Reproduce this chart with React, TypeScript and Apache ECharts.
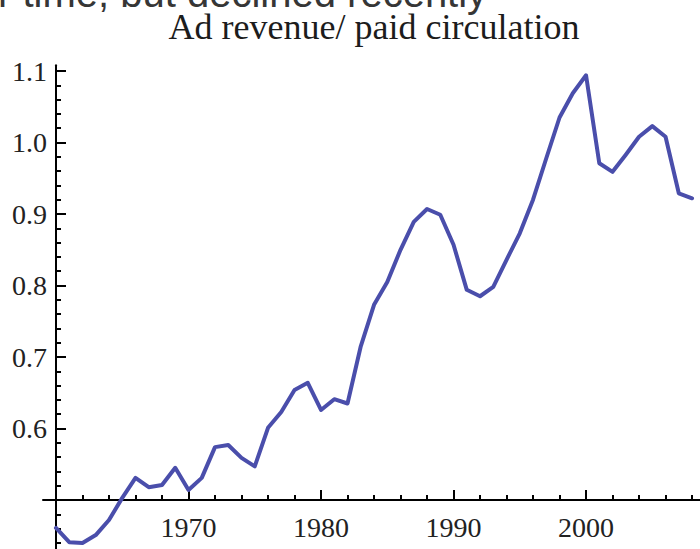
import React, { useEffect, useRef } from "react";
import * as echarts from "echarts";

const years = [
  1960, 1961, 1962, 1963, 1964, 1965, 1966, 1967, 1968, 1969,
  1970, 1971, 1972, 1973, 1974, 1975, 1976, 1977, 1978, 1979,
  1980, 1981, 1982, 1983, 1984, 1985, 1986, 1987, 1988, 1989,
  1990, 1991, 1992, 1993, 1994, 1995, 1996, 1997, 1998, 1999,
  2000, 2001, 2002, 2003, 2004, 2005, 2006, 2007, 2008,
];
const adRevenuePerCirculation = [
  0.461, 0.441, 0.44, 0.451, 0.472, 0.503, 0.531, 0.518, 0.521, 0.545,
  0.514, 0.531, 0.574, 0.577, 0.559, 0.547, 0.601, 0.623, 0.654, 0.664,
  0.626, 0.641, 0.635, 0.715, 0.773, 0.805, 0.85, 0.889, 0.907, 0.899,
  0.857, 0.794, 0.785, 0.798, 0.836, 0.873, 0.92, 0.978, 1.035, 1.069,
  1.094, 0.971, 0.959, 0.983, 1.008, 1.023, 1.008, 0.929, 0.922,
];
const xMajorTicks = [1970, 1980, 1990, 2000];
const xMinorTicks = [
  1962, 1964, 1966, 1968, 1972, 1974, 1976, 1978, 1982, 1984, 1986, 1988,
  1992, 1994, 1996, 1998, 2002, 2004, 2006, 2008,
];
const yMajorTicks = [0.6, 0.7, 0.8, 0.9, 1.0, 1.1];
const yMinorTicks = [
  0.44, 0.46, 0.48, 0.52, 0.54, 0.56, 0.58, 0.62, 0.64, 0.66, 0.68, 0.72,
  0.74, 0.76, 0.78, 0.82, 0.84, 0.86, 0.88, 0.92, 0.94, 0.96, 0.98, 1.02,
  1.04, 1.06, 1.08,
];
const chartTitle = "Ad revenue/ paid circulation";
const topClippedText = "r time, but declined recently";

const SERIF = "'Liberation Serif', 'Times New Roman', serif";
const X_MIN = 1959.02;
const X_MAX = 2008.6;
const Y_MIN = 0.4315;
const Y_MAX = 1.108;

export default function App() {
  const ref = useRef<HTMLDivElement>(null);

  useEffect(() => {
    if (!ref.current) return;
    const chart = echarts.init(ref.current, null, { renderer: "svg" });
    const labelStyle = {
      fontFamily: SERIF,
      fontSize: 28,
      color: "#222",
    };
    const baseX = {
      type: "value" as const,
      min: X_MIN,
      max: X_MAX,
      position: "bottom" as const,
      offset: -49,
      splitLine: { show: false },
    };
    const baseY = {
      type: "value" as const,
      min: Y_MIN,
      max: Y_MAX,
      position: "left" as const,
      offset: -13,
      splitLine: { show: false },
    };
    chart.setOption({
      animation: false,
      backgroundColor: "#ffffff",
      grid: { left: 43, right: 0, top: 65.3, bottom: 0, containLabel: false },
      graphic: [
        {
          type: "text",
          x: -2,
          y: -7,
          style: {
            text: topClippedText,
            font: "40px 'Liberation Sans', Arial, sans-serif",
            fill: "#363636",
            align: "left",
            verticalAlign: "middle",
          },
        },
        {
          type: "text",
          x: 374,
          y: 27,
          style: {
            text: chartTitle,
            font: "36px " + SERIF,
            fill: "#1c1c1c",
            align: "center",
            verticalAlign: "middle",
          },
        },
      ],
      xAxis: [
        {
          ...baseX,
          axisLine: { show: true, onZero: false, lineStyle: { color: "#000", width: 2 } },
          axisTick: {
            show: true,
            inside: true,
            length: 10,
            customValues: xMajorTicks,
            lineStyle: { color: "#000", width: 2 },
          },
          axisLabel: {
            show: true,
            customValues: xMajorTicks,
            margin: 13,
            formatter: (v: number) => String(Math.round(v)),
            ...labelStyle,
          },
        },
        {
          ...baseX,
          axisLine: { show: false, onZero: false },
          axisTick: {
            show: true,
            inside: true,
            length: 5,
            customValues: xMinorTicks,
            lineStyle: { color: "#000", width: 2 },
          },
          axisLabel: { show: false },
        },
      ],
      yAxis: [
        {
          ...baseY,
          axisLine: { show: true, onZero: false, lineStyle: { color: "#000", width: 2 } },
          axisTick: {
            show: true,
            inside: true,
            length: 10,
            customValues: yMajorTicks,
            lineStyle: { color: "#000", width: 2 },
          },
          axisLabel: {
            show: true,
            customValues: yMajorTicks,
            margin: 9,
            formatter: (v: number) => v.toFixed(1),
            ...labelStyle,
          },
        },
        {
          ...baseY,
          axisLine: { show: false, onZero: false },
          axisTick: {
            show: true,
            inside: true,
            length: 5,
            customValues: yMinorTicks,
            lineStyle: { color: "#000", width: 2 },
          },
          axisLabel: { show: false },
        },
      ],
      series: [
        {
          type: "line",
          xAxisIndex: 0,
          yAxisIndex: 0,
          data: years.map((y, i) => [y, adRevenuePerCirculation[i]]),
          showSymbol: false,
          symbol: "none",
          lineStyle: { color: "#4a4eab", width: 4, join: "round", cap: "round" },
          clip: true,
        },
      ],
    });
    return () => chart.dispose();
  }, []);

  return (
    <div
      ref={ref}
      style={{ position: "absolute", left: 0, top: 0, width: 700, height: 549 }}
    />
  );
}
